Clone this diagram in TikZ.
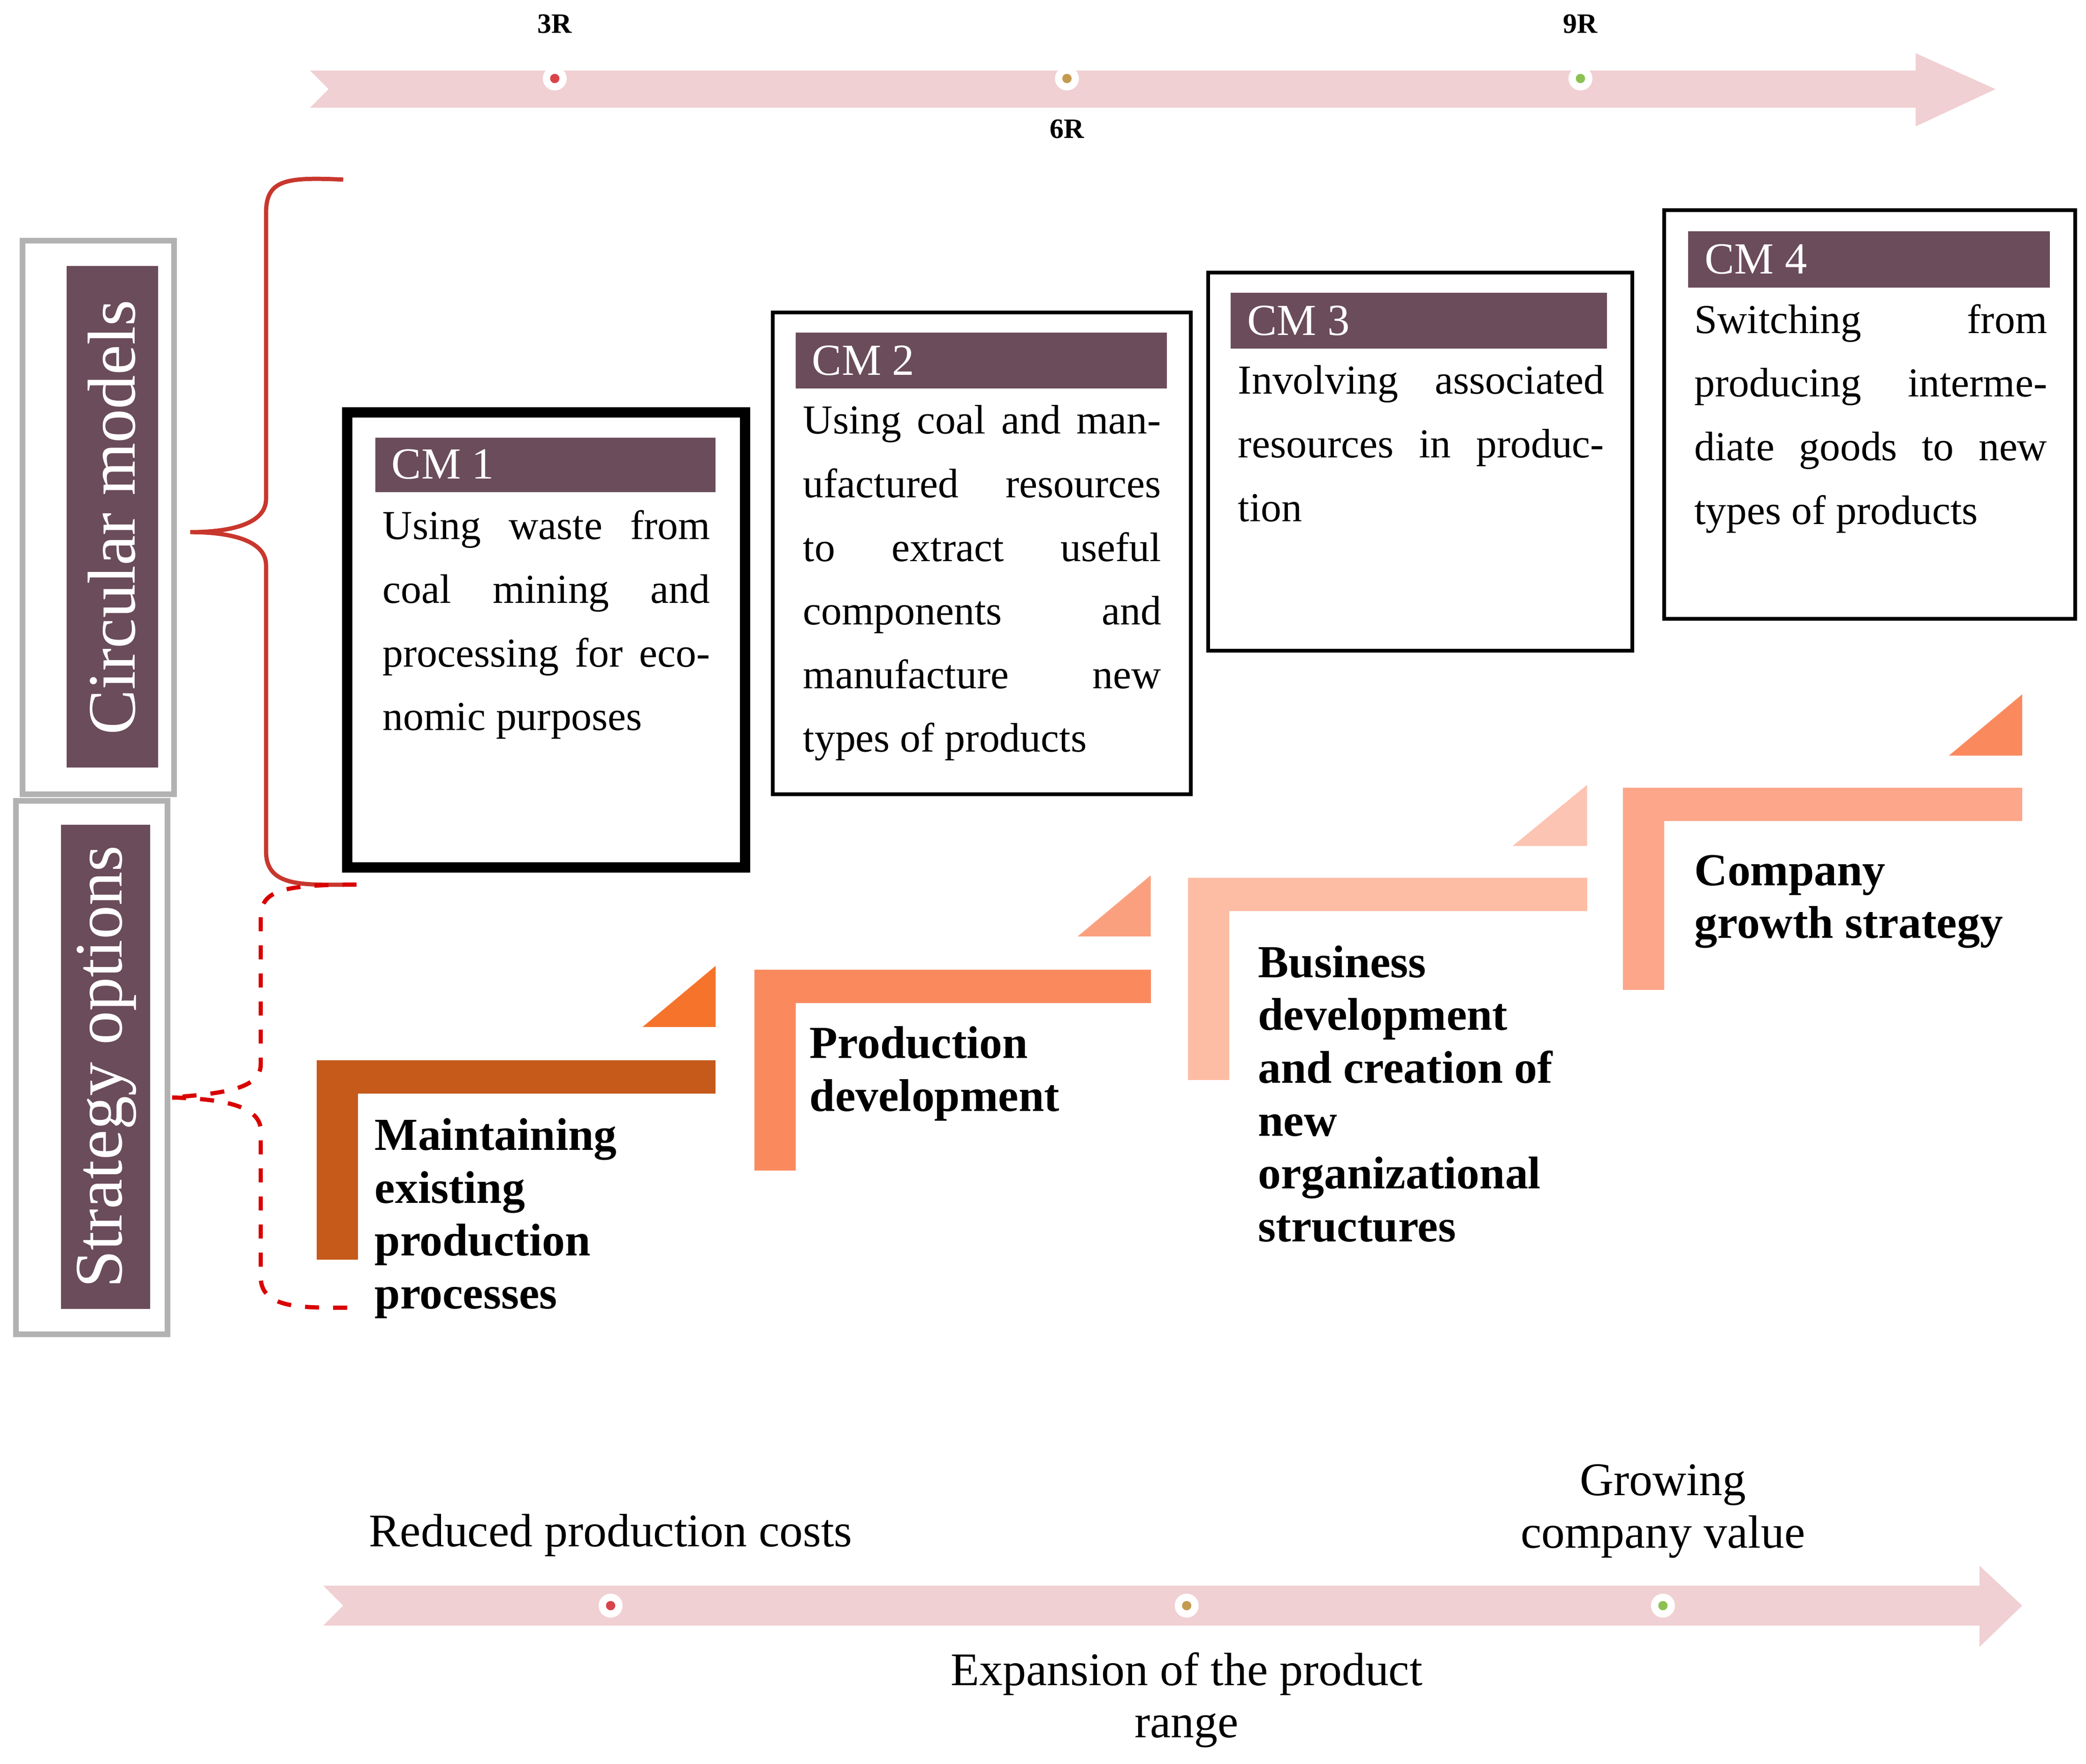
\documentclass[tikz,border=0pt]{standalone}
\usepackage{fontspec}
\setmainfont{Liberation Serif}
\definecolor{band}{HTML}{F0D0D3}
\definecolor{mauve}{HTML}{6B4C5A}
\definecolor{dotred}{HTML}{D9434A}
\definecolor{dottan}{HTML}{C49A4E}
\definecolor{dotgreen}{HTML}{8CC152}
\definecolor{braced}{HTML}{C8372D}
\definecolor{stepa}{HTML}{C65A1B}
\definecolor{triga}{HTML}{F5732B}
\definecolor{stepb}{HTML}{FA8A5E}
\definecolor{trigb}{HTML}{FBA07E}
\definecolor{stepc}{HTML}{FDBDA5}
\definecolor{trigc}{HTML}{FCC4B2}
\definecolor{stepd}{HTML}{FEA68A}
\definecolor{trigd}{HTML}{FA8A5E}
\tikzset{
  cmtext/.style={anchor=north west,inner sep=0pt,align=justify,font=\fontsize{8.8}{13.6}\selectfont},
  cmhead/.style={anchor=west,text=white,font=\fontsize{9.5}{12}\selectfont},
  steptext/.style={anchor=north west,inner sep=0pt,align=left,font=\fontsize{9.8}{11.3}\selectfont\bfseries},
  rlabel/.style={font=\fontsize{6}{7}\selectfont\bfseries},
  blabel/.style={font=\fontsize{10}{11.2}\selectfont,align=center},
  sidetext/.style={rotate=90,text=white,font=\fontsize{14.5}{17}\selectfont}
}
\newcommand{\rmark}[3]{\fill[white] (#1,#2) circle (9); \fill[#3] (#1,#2) circle (3.5);}
\newcommand{\stepL}[8]{%
  \fill[#7] (#1,#2) rectangle (#3,#2+25);
  \fill[#7] (#1,#2) rectangle (#1+31,#4);
  \fill[#8] (#5,#6) -- (#3,#6) -- (#3,#6-46) -- cycle;}
\begin{document}
\begin{tikzpicture}[x=0.01cm,y=-0.01cm]
  \useasboundingbox (0,0) rectangle (1568,1326);
  % arrows
  \fill[band] (233,53) -- (1440,53) -- (1440,40) -- (1500,67) -- (1440,95) -- (1440,81) -- (233,81) -- (247,67) -- cycle;
  \fill[band] (243,1192) -- (1488,1192) -- (1488,1177) -- (1520,1207) -- (1488,1238) -- (1488,1222) -- (243,1222) -- (258,1207) -- cycle;
  \rmark{417}{59}{dotred} \rmark{802}{59}{dottan} \rmark{1188}{59}{dotgreen}
  \rmark{459}{1207}{dotred} \rmark{892}{1207}{dottan} \rmark{1250}{1207}{dotgreen}
  \node[rlabel] (r3) at (417,18) {3R};
  \node[rlabel] (r6) at (802,97) {6R};
  \node[rlabel] (r9) at (1188,18) {9R};
  \node[blabel] (costs) at (459,1154) {Reduced production costs};
  \node[blabel] (range) at (892,1278) {Expansion of the product\\range};
  \node[blabel] (value) at (1250,1136) {Growing\\company value};
  % side labels
  \draw[gray!60,line width=1.2pt] (17,181) rectangle (131,597);
  \fill[mauve] (50,200) rectangle (119,577);
  \node[sidetext] (circ) at (84,389) {Circular models};
  \draw[gray!60,line width=1.2pt] (12,602) rectangle (126,1003);
  \fill[mauve] (46,620) rectangle (113,984);
  \node[sidetext] (strat) at (80,802) {Strategy options};
  % braces
  \draw[braced,line width=0.9pt] (258,135) .. controls (215,133) and (200,135) .. (200,160) -- (200,375) .. controls (200,395) and (170,400) .. (143,400)
    .. controls (170,400) and (200,405) .. (200,425) -- (200,640) .. controls (200,668) and (230,665) .. (268,665);
  \draw[red!85!black,dashed,line width=0.9pt] (268,665) .. controls (210,665) and (196,670) .. (196,690) -- (196,800) .. controls (196,818) and (170,822) .. (128,825)
    .. controls (170,826) and (196,832) .. (196,850) -- (196,960) .. controls (196,985) and (230,983) .. (268,983);
  % CM boxes
  \draw[line width=2.2pt] (261,310) rectangle (560,652);
  \fill[mauve] (282,329) rectangle (538,370);
  \node[cmhead] (cm1) at (282,349) {CM 1};
  \node[cmtext,text width=2.46cm] (cm1t) at (287,383) {Using waste from\linebreak coal mining and\linebreak processing for eco-\linebreak nomic purposes};
  \draw[line width=0.8pt] (581,235) rectangle (895,597);
  \fill[mauve] (598,250) rectangle (877,292);
  \node[cmhead] (cm2) at (598,271) {CM 2};
  \node[cmtext,text width=2.69cm] (cm2t) at (603,304) {Using coal and man-\linebreak ufactured resources\linebreak to extract useful\linebreak components and\linebreak manufacture new\linebreak types of products};
  \draw[line width=0.8pt] (908,205) rectangle (1227,489);
  \fill[mauve] (925,220) rectangle (1208,262);
  \node[cmhead] (cm3) at (925,241) {CM 3};
  \node[cmtext,text width=2.75cm] (cm3t) at (930,274) {Involving associated\linebreak resources in produc-\linebreak tion};
  \draw[line width=0.8pt] (1251,158) rectangle (1560,465);
  \fill[mauve] (1269,174) rectangle (1541,216);
  \node[cmhead] (cm4) at (1269,195) {CM 4};
  \node[cmtext,text width=2.65cm] (cm4t) at (1273,228) {Switching from\linebreak producing interme-\linebreak diate goods to new\linebreak types of products};
  % steps
  \stepL{238}{797}{538}{947}{483}{772}{stepa}{triga}
  \stepL{567}{729}{865}{880}{810}{704}{stepb}{trigb}
  \stepL{893}{660}{1193}{812}{1137}{636}{stepc}{trigc}
  \stepL{1220}{592}{1520}{744}{1465}{568}{stepd}{trigd}
  \node[steptext] (s1) at (281,840) {Maintaining\\existing\\production\\processes};
  \node[steptext] (s2) at (608,771) {Production\\development};
  \node[steptext] (s3) at (945,710) {Business\\development\\and creation of\\new\\organizational\\structures};
  \node[steptext] (s4) at (1273,642) {Company\\growth strategy};
\end{tikzpicture}
\end{document}
